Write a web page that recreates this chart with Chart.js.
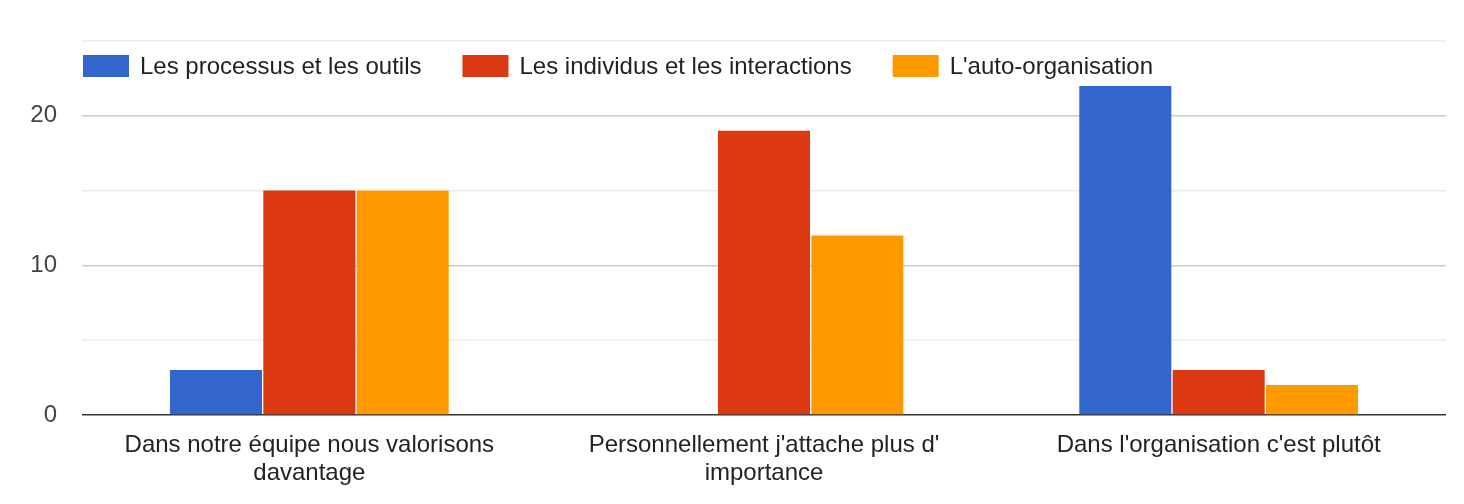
<!DOCTYPE html>
<html>
<head>
<meta charset="utf-8">
<script src="https://cdn.jsdelivr.net/npm/chart.js@4"></script>
<style>
html,body{margin:0;padding:0;background:#fff;}
#wrap{width:1464px;height:504px;position:relative;}
</style>
</head>
<body>
<div id="wrap"><canvas id="c"></canvas></div>
<script>
const categories = [
  ["Dans notre équipe nous valorisons", "davantage"],
  ["Personnellement j'attache plus d'", "importance"],
  ["Dans l'organisation c'est plutôt"]
];
const seriesNames = ["Les processus et les outils", "Les individus et les interactions", "L'auto-organisation"];
const processusValues = [3, 0, 22];
const individusValues = [15, 19, 3];
const autoOrgValues = [15, 12, 2];
const seriesColors = ["#3366cc", "#dc3912", "#ff9900"];
const yTickLabels = [0, 10, 20];

const FONT = "'Liberation Sans', Arial, sans-serif";

const legendPlugin = {
  id: 'gLegend',
  afterDraw(chart) {
    const ctx = chart.ctx;
    ctx.save();
    ctx.font = "24px " + FONT;
    ctx.textBaseline = 'middle';
    ctx.textAlign = 'left';
    let x = 83;
    const yc = 66;
    chart.data.datasets.forEach(ds => {
      ctx.fillStyle = ds.backgroundColor;
      ctx.fillRect(x, yc - 11, 46, 22);
      ctx.fillStyle = '#222222';
      ctx.fillText(ds.label, x + 57, yc + 1);
      x += 57 + ctx.measureText(ds.label).width + 41;
    });
    ctx.restore();
  }
};

new Chart(document.getElementById('c'), {
  type: 'bar',
  data: {
    labels: categories,
    datasets: [
      { label: seriesNames[0], data: processusValues, backgroundColor: seriesColors[0] },
      { label: seriesNames[1], data: individusValues, backgroundColor: seriesColors[1] },
      { label: seriesNames[2], data: autoOrgValues, backgroundColor: seriesColors[2] }
    ]
  },
  options: {
    responsive: true,
    maintainAspectRatio: false,
    animation: false,
    devicePixelRatio: 1,
    layout: { padding: { top: 41, right: 18, bottom: 0, left: 0 } },
    datasets: { bar: { categoryPercentage: 0.616, barPercentage: 0.986 } },
    plugins: { legend: { display: false }, tooltip: { enabled: false } },
    scales: {
      x: {
        grid: { display: false },
        border: { display: false },
        ticks: { color: '#222222', font: { family: FONT, size: 24, lineHeight: 1.17 }, padding: 8, maxRotation: 0, autoSkip: false },
        afterFit(s) { s.height = 89; }
      },
      y: {
        min: 0, max: 25,
        border: { display: false },
        grid: {
          drawTicks: false,
          lineWidth: 1.6,
          color(c) {
            const v = c.tick.value;
            if (v === 0) return '#333333';
            if (yTickLabels.includes(v)) return '#cccccc';
            return '#ebebeb';
          }
        },
        ticks: {
          stepSize: 5,
          color: '#444444',
          padding: 25,
          font: { family: FONT, size: 24 },
          callback(v) { return yTickLabels.includes(v) ? String(v) : ''; }
        },
        afterFit(s) { s.width = 82; }
      }
    }
  },
  plugins: [legendPlugin]
});
</script>
</body>
</html>
